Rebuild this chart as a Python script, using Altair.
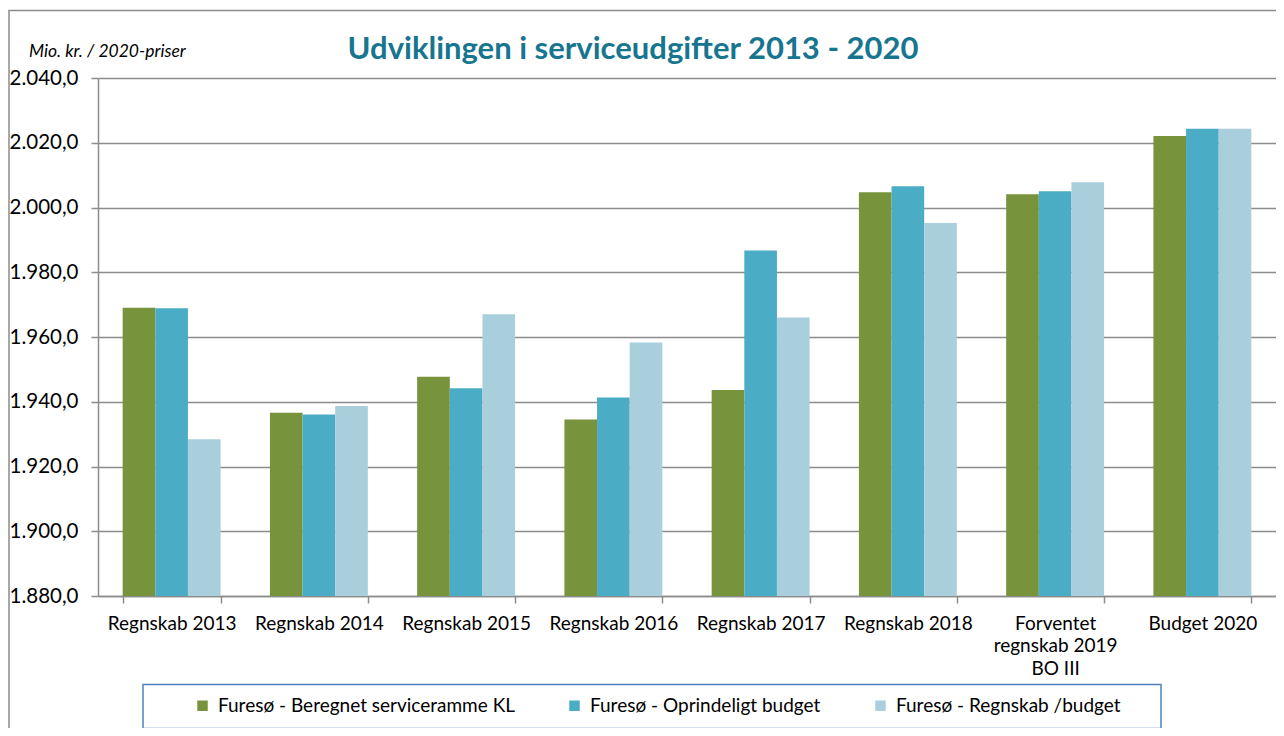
import altair as alt
import pandas as pd

categories = ["Regnskab 2013", "Regnskab 2014", "Regnskab 2015", "Regnskab 2016",
              "Regnskab 2017", "Regnskab 2018", "Forventet regnskab 2019 BO III", "Budget 2020"]
series = ["Furesø - Beregnet serviceramme KL", "Furesø - Oprindeligt budget", "Furesø - Regnskab /budget"]
beregnet = [1969.0, 1936.6, 1947.7, 1934.5, 1943.6, 2004.7, 2004.1, 2022.1]
oprindeligt = [1968.9, 1936.1, 1944.2, 1941.3, 1986.7, 2006.6, 2005.0, 2024.3]
regnskab = [1928.4, 1938.7, 1967.0, 1958.3, 1966.0, 1995.2, 2007.8, 2024.3]
y_ticks = [1880, 1900, 1920, 1940, 1960, 1980, 2000, 2020, 2040]
colors = ["#77933C", "#4BACC6", "#A9CFDD"]

rows = []
for s, vals in zip(series, [beregnet, oprindeligt, regnskab]):
    for c, v in zip(categories, vals):
        rows.append({"kategori": c, "serie": s, "vaerdi": v})
df = pd.DataFrame(rows)

W, H = 1178, 518
FONT = "Lato"
GRID = "#8c8c8c"

label_expr_y = ("replace(replace(replace(format(datum.value, ',.1f'), ',', '_'), '.', ','), '_', '.')")
label_expr_x = ("datum.value == 'Forventet regnskab 2019 BO III' ? "
                "['Forventet', 'regnskab 2019', 'BO III'] : datum.label")

bars = alt.Chart(df).mark_bar(clip=True).encode(
    x=alt.X("kategori:N", sort=categories, title=None,
            scale=alt.Scale(paddingInner=0.335, paddingOuter=0.1675),
            axis=alt.Axis(labelAngle=0, labelFont=FONT, labelFontSize=19, labelColor="#000",
                          labelExpr=label_expr_x, labelLineHeight=22.5, labelPadding=11,
                          tickBand="extent", tickSize=7, tickColor=GRID, tickWidth=1.5,
                          domainColor=GRID, domainWidth=1.5, grid=False)),
    xOffset=alt.XOffset("serie:N", sort=series),
    y=alt.Y("vaerdi:Q", title=None,
            scale=alt.Scale(domain=[1880, 2040], nice=False, zero=False),
            axis=alt.Axis(values=y_ticks, labelExpr=label_expr_y, labelFont=FONT,
                          labelFontSize=20.5, labelColor="#000", labelPadding=13,
                          tickSize=7, tickColor=GRID, tickWidth=1.5,
                          domainColor=GRID, domainWidth=1.5,
                          grid=True, gridColor=GRID, gridWidth=1.5)),
    color=alt.Color("serie:N", sort=series,
                    scale=alt.Scale(domain=series, range=colors),
                    legend=alt.Legend(orient="none", legendX=95, legendY=618,
                                      direction="horizontal", columns=3, title=None,
                                      symbolType="square", symbolSize=110,
                                      symbolStrokeWidth=0, labelFont=FONT,
                                      labelFontSize=19, labelColor="#000", labelLimit=600,
                                      labelOffset=6, columnPadding=50, padding=0)),
)

one = pd.DataFrame({"a": [0]})

frame = alt.Chart(one).mark_rect(fill="transparent", stroke="#8c8c8c", strokeWidth=1.5).encode(
    x=alt.value(-89), x2=alt.value(W + 60), y=alt.value(-67.5), y2=alt.value(H + 300)
)

legend_box = alt.Chart(one).mark_rect(fill="transparent", stroke="#4F81BD", strokeWidth=1.5).encode(
    x=alt.value(45), x2=alt.value(1063), y=alt.value(606.5), y2=alt.value(650.5)
)

title = alt.Chart(one).mark_text(
    text="Udviklingen i serviceudgifter 2013 - 2020", font=FONT, fontSize=31,
    fontWeight="bold", color="#17768F", align="center", baseline="middle"
).encode(x=alt.value(535), y=alt.value(-28.5))

subtitle = alt.Chart(one).mark_text(
    text="Mio. kr. / 2020-priser", font=FONT, fontSize=17.5, fontStyle="italic",
    color="#000", align="left", baseline="middle"
).encode(x=alt.value(-69), y=alt.value(-26))

chart = alt.layer(frame, legend_box, bars, title, subtitle).properties(
    width=W, height=H,
    autosize=alt.AutoSizeParams(type="none"),
    padding={"left": 90, "top": 70, "right": 0, "bottom": 132},
    background="white",
).configure_view(strokeWidth=0)

chart.save("out.html", embed_options={"renderer": "svg", "actions": False})
